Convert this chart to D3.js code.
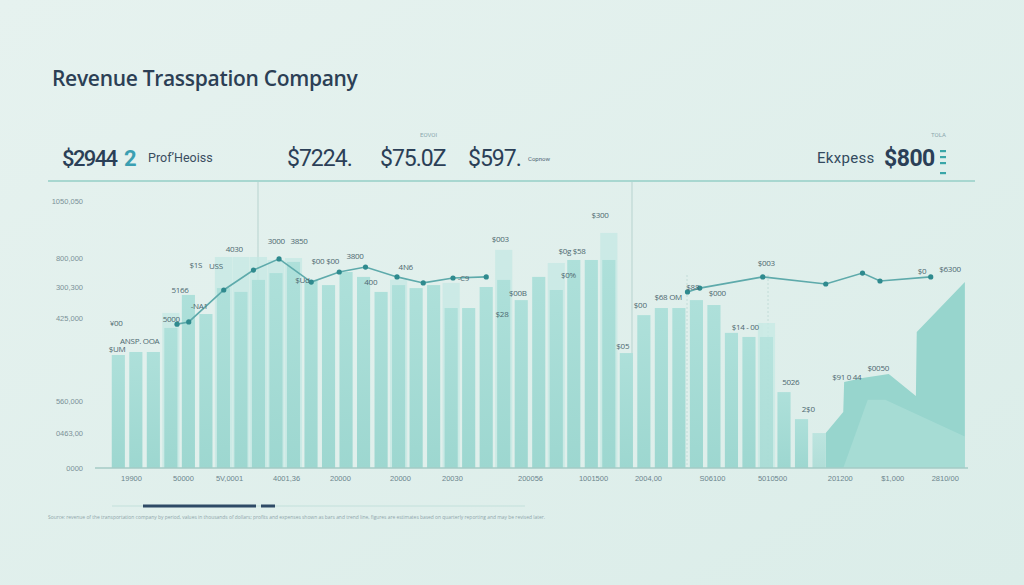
<!DOCTYPE html>
<meta charset="UTF-8">
<style>
  body {
    margin: 0;
    background: #e1efec;
  }
  svg {
    display: block;
    font-family: "Open Sans", sans-serif;
  }
</style>
<svg width="1024" height="585"></svg>
<script src="https://d3js.org/d3.v7.min.js"></script>
<script>
  const WIDTH = 1024,
        HEIGHT = 585;

  const PLOT = { left: 110, right: 967.5, top: 195, bottom: 468 };
  const SLOTS = 49;

  const title = 'Revenue Trasspation Company';

  // one value per period slot, null where there is no bar
  const barValues = [
    414, 425, 425, 513, 634, 564, 659, 645, 689, 714,
    755, 689, 670, 718, 700, 645, 670, 659, 670, 586,
    586, 663, 689, 615, 700, 652, 762, 762, 762, 421,
    560, 586, 586, 615, 597, 495, 480, 480, 278, 179,
    128, null, null, null, null, null, null, null, null,
  ];
  const ghostValues = [
    null, null, null, 568, null, null, 773, 773, 773, 762,
    769, null, null, null, null, null, 690, null, null, 678,
    null, null, 799, null, null, 751, null, null, 861, null,
    null, null, null, null, null, null, null, 531, null, null,
    null, null, null, null, null, null, null, null, null,
  ];

  // positions below are in period units (0 = left edge of first slot)
  const areaAIdx = [40.9, 41.9, 41.95, 43.0, 44.5, 46.05, 46.1, 48.85];
  const areaAVal = [128, 205, 315, 330, 344, 264, 498, 681];
  const areaBIdx = [41.9, 43.3, 44.3, 48.85];
  const areaBVal = [0, 250, 250, 115];

  const lineIdx = [3.83, 4.5, 6.5, 8.2, 9.66, 11.5, 13.1, 14.6, 16.4, 17.9, 19.6, 21.5,
                   27, 33.0, 33.7, 37.3, 40.9, 43.0, 44.0, 46.9];
  const lineVal = [527, 535, 652, 725, 766, 681, 718, 736, 700, 678, 696, 700,
                   null, 645, 659, 700, 674, 714, 685, 700];

  const yTickVals = [978, 769, 663, 549, 245, 128, 0];
  const yTickLabels = ['1050,050', '800,000', '300,300', '425,000', '560,000', '0463,00', '0000'];

  const xTickIdx = [1.2, 4.17, 6.8, 10.06, 13.14, 16.57, 19.54, 24, 27.6, 30.74, 34.4, 37.83, 41.7, 44.7, 47.7];
  const xTickLabels = ['19900', '50000', '5V,0001', '4001,36', '20000', '20000', '20030', '200056',
                       '1001500', '2004,00', 'S06100', '5010500', '201200', '$1,000', '2810/00'];

  const annIdx = [0.4, 0.35, 1.7, 3.5, 4.0, 5.1, 4.9, 6.05, 7.1, 9.5, 10.8, 11.0, 12.3, 14.0, 14.9,
                  16.9, 20.2, 22.3, 23.3, 22.4, 26.4, 26.2, 28.0, 29.3, 30.3, 31.9, 33.3, 34.7,
                  36.3, 37.5, 38.9, 39.9, 42.1, 43.9, 46.4, 48.0];
  const annVal = [425, 520, 454, 535, 641, 582, 733, 729, 791, 820, 820, 678, 747, 766, 670,
                  725, 685, 828, 630, 553, 784, 696, 916, 436, 586, 615, 652, 630,
                  505, 740, 304, 205, 322, 355, 711, 718];
  const annText = ['$UM', '¥00', 'ANSP. OOA', '5000', '5166', '-NA1', '$1S', 'USS', '4030', '3000',
                   '3850', '$Ud', '$00 $00', '3800', '400', '4N6', '-C9', '$003', '$00B', '$28',
                   '$0g $58', '$0%', '$300', '$05', '$00', '$68 OM', '$88', '$000', '$14 - 00',
                   '$003', '5026', '2$0', '$91 0 44', '$0050', '$0', '$6300'];

  const svg = d3.select('svg');

  const defs = svg.append('defs');
  const bg = defs.append('linearGradient').attr('id', 'bg')
    .attr('x1', 0).attr('y1', 0).attr('x2', 1).attr('y2', 1);
  bg.append('stop').attr('offset', 0).attr('stop-color', '#e6f2ef');
  bg.append('stop').attr('offset', 1).attr('stop-color', '#dbede9');
  const barGrad = defs.append('linearGradient').attr('id', 'barGrad')
    .attr('x1', 0).attr('y1', 0).attr('x2', 0).attr('y2', 1);
  barGrad.append('stop').attr('offset', 0).attr('stop-color', '#aee0da');
  barGrad.append('stop').attr('offset', 1).attr('stop-color', '#9dd7d0');

  svg.append('rect').attr('width', WIDTH).attr('height', HEIGHT).attr('fill', 'url(#bg)');

  const x = d3.scaleBand()
    .domain(d3.range(SLOTS))
    .range([PLOT.left, PLOT.right])
    .paddingInner(0.25)
    .paddingOuter(0.1);
  const xLin = d3.scaleLinear().domain([0, SLOTS]).range([PLOT.left, PLOT.right]);
  const y = d3.scaleLinear().domain([0, 1000]).range([PLOT.bottom, PLOT.top]);

  // title + kpi header
  svg.append('text')
    .attr('x', 52).attr('y', 86)
    .attr('font-size', 21).attr('font-weight', 600)
    .attr('fill', '#2c3f55').attr('letter-spacing', -0.3)
    .text(title);

  const kpi = svg.append('g').attr('fill', '#2b3f57')
    .attr('font-family', 'Roboto, sans-serif');
  kpi.append('text').attr('x', 62).attr('y', 166).attr('font-size', 22)
    .attr('font-weight', 500).attr('letter-spacing', -1.6).text('$2944');
  kpi.append('text').attr('x', 124).attr('y', 166).attr('font-size', 22)
    .attr('font-weight', 700).attr('fill', '#3b9fb2').text('2');
  kpi.append('text').attr('x', 148).attr('y', 162).attr('font-size', 12.5)
    .attr('fill', '#3a4d60').text('Prof\u2019Heoiss');
  kpi.append('text').attr('x', 287).attr('y', 166).attr('font-size', 23)
    .attr('letter-spacing', -1).text('$7224.');
  kpi.append('text').attr('x', 380).attr('y', 166).attr('font-size', 23)
    .attr('letter-spacing', -1).text('$75.0Z');
  kpi.append('text').attr('x', 420).attr('y', 137).attr('font-size', 6)
    .attr('fill', '#8aa7ad').text('EOVOI');
  kpi.append('text').attr('x', 468).attr('y', 166).attr('font-size', 23)
    .attr('letter-spacing', -1).text('$597.');
  kpi.append('text').attr('x', 528).attr('y', 161).attr('font-size', 6)
    .attr('fill', '#4f6677').text('Copnow');
  kpi.append('text').attr('x', 817).attr('y', 163).attr('font-size', 15)
    .attr('fill', '#334a5e').attr('letter-spacing', 0.3).text('Ekxpess');
  kpi.append('text').attr('x', 884).attr('y', 166).attr('font-size', 23)
    .attr('font-weight', 700).attr('letter-spacing', -0.5).text('$800');
  kpi.append('text').attr('x', 931).attr('y', 137).attr('font-size', 6)
    .attr('fill', '#8aa7ad').text('TOLA');
  kpi.append('g').attr('fill', '#3aa6a8')
    .selectAll('rect').data([150, 156, 162, 172]).join('rect')
      .attr('x', 940).attr('y', d => d).attr('width', 6).attr('height', 2.2);

  svg.append('line')
    .attr('x1', 48).attr('x2', 975).attr('y1', 181).attr('y2', 181)
    .attr('stroke', '#a8d7d0').attr('stroke-width', 2);

  // guide lines
  svg.append('g').attr('stroke', '#b7d3cf').attr('stroke-width', 1)
    .selectAll('line').data([258, 632]).join('line')
      .attr('x1', d => d).attr('x2', d => d)
      .attr('y1', 182).attr('y2', PLOT.bottom);
  svg.append('g').attr('stroke', '#c2dcd8').attr('stroke-dasharray', '2,2')
    .selectAll('line').data([687, 768]).join('line')
      .attr('x1', d => d).attr('x2', d => d)
      .attr('y1', 275).attr('y2', PLOT.bottom);

  // ghost bars
  svg.append('g').attr('fill', '#c5e9e4').attr('opacity', 0.75)
    .selectAll('rect')
    .data(ghostValues.map((v, i) => ({ i, v })).filter(d => d.v != null))
    .join('rect')
      .attr('x', d => x(d.i) - 2)
      .attr('width', x.bandwidth() + 4)
      .attr('y', d => y(d.v))
      .attr('height', d => y(0) - y(d.v));

  // bars
  svg.append('g').attr('fill', 'url(#barGrad)')
    .selectAll('rect')
    .data(barValues.map((v, i) => ({ i, v })).filter(d => d.v != null))
    .join('rect')
      .attr('x', d => x(d.i))
      .attr('width', x.bandwidth())
      .attr('y', d => y(d.v))
      .attr('height', d => y(0) - y(d.v))
      .attr('opacity', d => d.i === 40 || d.i === 37 ? 0.7 : 1);

  // right-hand areas
  const area = d3.area()
    .x(d => xLin(d[0]))
    .y0(y(0))
    .y1(d => y(d[1]));
  svg.append('path')
    .datum(d3.zip(areaAIdx, areaAVal))
    .attr('fill', '#97d5cd')
    .attr('d', area);
  svg.append('path')
    .datum(d3.zip(areaBIdx, areaBVal))
    .attr('fill', '#b9e4de')
    .attr('opacity', 0.45)
    .attr('d', area);

  // line
  const linePts = d3.zip(lineIdx, lineVal);
  svg.append('path')
    .datum(linePts)
    .attr('fill', 'none')
    .attr('stroke', '#5eaaab')
    .attr('stroke-width', 1.6)
    .attr('d', d3.line()
      .defined(d => d[1] != null)
      .x(d => xLin(d[0]))
      .y(d => y(d[1])));
  svg.append('g').attr('fill', '#2f8a8e')
    .selectAll('circle')
    .data(linePts.filter(d => d[1] != null))
    .join('circle')
      .attr('cx', d => xLin(d[0]))
      .attr('cy', d => y(d[1]))
      .attr('r', 2.6);

  // value annotations
  svg.append('g')
    .attr('font-size', 8).attr('fill', '#4d6870')
    .attr('text-anchor', 'middle').attr('letter-spacing', -0.3)
    .selectAll('text')
    .data(d3.zip(annIdx, annVal, annText))
    .join('text')
      .attr('x', d => xLin(d[0]))
      .attr('y', d => y(d[1]))
      .text(d => d[2]);

  // axes
  const yAxis = svg.append('g')
    .attr('transform', 'translate(86,0)')
    .call(d3.axisLeft(y)
      .tickValues(yTickVals)
      .tickFormat((_, i) => yTickLabels[i])
      .tickSize(0));
  yAxis.select('.domain').remove();
  yAxis.selectAll('text')
    .attr('font-size', 7.5).attr('fill', '#7b9198')
    .attr('font-family', 'Liberation Sans, sans-serif');

  svg.append('line')
    .attr('x1', 95).attr('x2', 968).attr('y1', PLOT.bottom).attr('y2', PLOT.bottom)
    .attr('stroke', '#a5cbc6').attr('stroke-width', 1.5);

  const xAxis = svg.append('g')
    .attr('transform', `translate(0,${PLOT.bottom + 5})`)
    .call(d3.axisBottom(xLin)
      .tickValues(xTickIdx)
      .tickFormat((_, i) => xTickLabels[i])
      .tickSize(0));
  xAxis.select('.domain').remove();
  xAxis.selectAll('text')
    .attr('font-size', 7.5).attr('fill', '#6c858d')
    .attr('font-family', 'Liberation Sans, sans-serif');

  // scroller + footnote
  svg.append('line')
    .attr('x1', 112).attr('x2', 525).attr('y1', 506).attr('y2', 506)
    .attr('stroke', '#c3e0db').attr('stroke-width', 1);
  svg.append('g').attr('stroke', '#2e4a66').attr('stroke-width', 3)
    .selectAll('line').data([[143, 256], [261, 275]]).join('line')
      .attr('x1', d => d[0]).attr('x2', d => d[1])
      .attr('y1', 506).attr('y2', 506);
  svg.append('text')
    .attr('x', 48).attr('y', 519)
    .attr('font-size', 4.5).attr('fill', '#8fa6ab')
    .attr('textLength', 497).attr('lengthAdjust', 'spacingAndGlyphs')
    .text('Source: revenue of the transportation company by period, values in thousands of dollars; profits and expenses shown as bars and trend line, figures are estimates based on quarterly reporting and may be revised later.');
</script>
